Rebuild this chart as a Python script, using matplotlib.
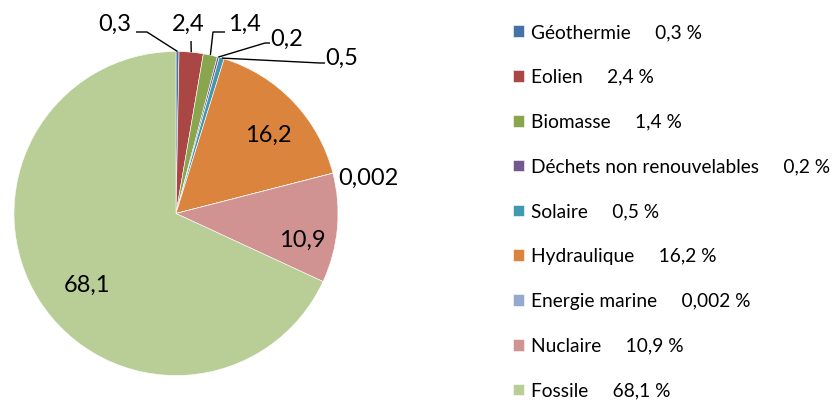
import numpy as np
import matplotlib
matplotlib.use("Agg")
from matplotlib import pyplot as plt

plt.rcParams['font.family'] = ['Lato', 'DejaVu Sans']

categories = ["Géothermie", "Eolien", "Biomasse", "Déchets non renouvelables", "Solaire",
              "Hydraulique", "Energie marine", "Nuclaire", "Fossile"]
values = [0.3, 2.4, 1.4, 0.2, 0.5, 16.2, 0.002, 10.9, 68.1]
colors = ["#4572A7", "#AA4643", "#89A54E", "#71588F", "#4198AF",
          "#DB843D", "#93A9CF", "#D19392", "#B9CD96"]


def fmt(v):
    return str(v).replace(".", ",")


W, H = 838, 405
CX, CY, R = 176, 213.5, 162.0


def px(x, y):
    # pixel position -> data coords (pie radius = 1)
    return (x - CX) / R, (CY - y) / R


fig = plt.figure(figsize=(W / 100, H / 100), dpi=100)
ax = fig.add_axes([0, 0, 1, 1])

wedges, _ = ax.pie(values, colors=colors, startangle=90, counterclock=False, radius=1,
                   wedgeprops=dict(edgecolor="white", linewidth=0.4))
ax.set_aspect("auto")
ax.set_xlim(-CX / R, (W - CX) / R)
ax.set_ylim((CY - H) / R, CY / R)
ax.axis("off")

# label placement (pixels): text position, alignment, leader line points after the rim
layout = [
    dict(text=(131, 24), ha="right", path=[(147, 32), (136, 32)]),
    dict(text=(188, 24), ha="center", path=[(191, 41)]),
    dict(text=(228, 24), ha="left", path=[(213, 32), (225, 32)]),
    dict(text=(270, 39), ha="left", path=[(265, 43), (270, 43)]),
    dict(text=(325, 58), ha="left", path=[(320, 63), (325, 63)]),
    dict(text=(268, 135), ha="center", path=None),
    dict(text=(368, 178), ha="center", path=None),
    dict(text=(302, 240), ha="center", path=None),
    dict(text=(87, 285), ha="center", path=None),
]

for w, v, lay in zip(wedges, values, layout):
    tx, ty = px(*lay["text"])
    ax.text(tx, ty, fmt(v), ha=lay["ha"], va="center", fontsize=17, color="black")
    if lay["path"]:
        mid = np.deg2rad((w.theta1 + w.theta2) / 2)
        pts = [(np.cos(mid), np.sin(mid))] + [px(*p) for p in lay["path"]]
        xs, ys = zip(*pts)
        ax.plot(xs, ys, color="black", linewidth=1.0, solid_capstyle="butt")

labels = [f"{c}     {fmt(v)} %" for c, v in zip(categories, values)]
fig.legend(wedges, labels, loc="upper left", bbox_to_anchor=(513 / W, 1 - 24 / H),
           frameon=False, fontsize=13.8, handlelength=0.55, handleheight=0.55,
           handletextpad=0.4, labelspacing=1.45, borderaxespad=0, borderpad=0)

fig.savefig("out.png", dpi=100)
